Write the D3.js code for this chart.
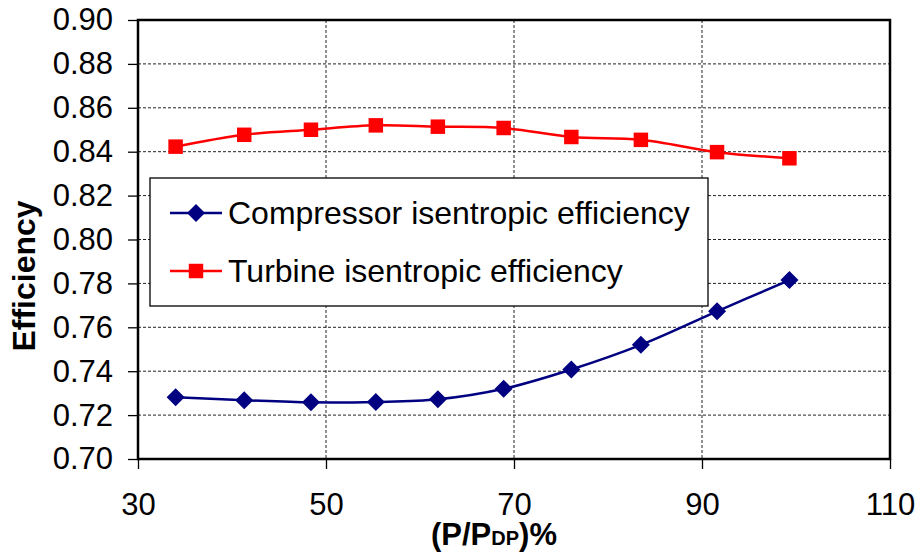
<!DOCTYPE html>
<html>
<head>
<meta charset="utf-8">
<script src="https://cdn.jsdelivr.net/npm/d3@7"></script>
<style>
  html, body { margin: 0; padding: 0; background: #fff; }
  svg { display: block; font-family: Arial, "Liberation Sans", sans-serif; }
</style>
</head>
<body>
<svg id="chart" width="918" height="558"></svg>
<script>
// ---- Data ----
const loadPct = [34.0, 41.3, 48.4, 55.3, 61.9, 68.9, 76.1, 83.5, 91.6, 99.3];
const compressorEff = [0.7281, 0.7268, 0.7258, 0.7260, 0.7272, 0.7320, 0.7408, 0.7520, 0.7673, 0.7815];
const turbineEff = [0.8423, 0.8477, 0.8500, 0.8520, 0.8514, 0.8508, 0.8467, 0.8454, 0.8398, 0.8370];
const xTicks = [30, 50, 70, 90, 110];
const yTicks = [0.70, 0.72, 0.74, 0.76, 0.78, 0.80, 0.82, 0.84, 0.86, 0.88, 0.90];
const seriesNames = ["Compressor isentropic efficiency", "Turbine isentropic efficiency"];

(function () {
// ---- Layout ----
const pL = 138, pR = 890, pT = 20, pB = 459;
const svg = d3.select("#chart");
const x = d3.scaleLinear().domain([30, 110]).range([pL, pR]);
const y = d3.scaleLinear().domain([0.70, 0.90]).range([pB, pT]);

// Gridlines
const grid = svg.append("g");
grid.selectAll("line.h").data(yTicks.filter(v => v > 0.701 && v < 0.899)).enter()
  .append("line")
  .attr("x1", pL).attr("x2", pR)
  .attr("y1", d => y(d)).attr("y2", d => y(d))
  .attr("stroke", "#222").attr("stroke-width", 1).attr("stroke-dasharray", "3,2");
grid.selectAll("line.v").data(xTicks.filter(v => v > 30 && v < 110)).enter()
  .append("line")
  .attr("y1", pT).attr("y2", pB)
  .attr("x1", d => x(d)).attr("x2", d => x(d))
  .attr("stroke", "#222").attr("stroke-width", 1).attr("stroke-dasharray", "3,2");

// Axes
const yAxis = d3.axisLeft(y).tickValues(yTicks).tickFormat(d3.format(".2f")).tickSize(10).tickPadding(15);
const gy = svg.append("g").attr("transform", `translate(${pL},0)`).call(yAxis);
const xAxis = d3.axisBottom(x).tickValues(xTicks).tickFormat(d3.format("d")).tickSize(10).tickPadding(24);
const gx = svg.append("g").attr("transform", `translate(0,${pB})`).call(xAxis);
[gx, gy].forEach(g => {
  g.select(".domain").remove();
  g.selectAll(".tick line").attr("stroke", "#000").attr("stroke-width", 1.3);
  g.selectAll(".tick text").attr("fill", "#000").style("font-size", "31px")
    .style("font-family", "Arial, 'Liberation Sans', sans-serif");
});

// Frame
svg.append("rect").attr("x", pL).attr("y", pT)
  .attr("width", pR - pL).attr("height", pB - pT)
  .attr("fill", "none").attr("stroke", "#000").attr("stroke-width", 2.5);

// Lines
const compData = loadPct.map((p, i) => [p, compressorEff[i]]);
const turbData = loadPct.map((p, i) => [p, turbineEff[i]]);
const line = d3.line().x(d => x(d[0])).y(d => y(d[1])).curve(d3.curveCatmullRom.alpha(0.5));

svg.append("path").datum(turbData).attr("d", line)
  .attr("fill", "none").attr("stroke", "#ff0000").attr("stroke-width", 2.5);
svg.append("path").datum(compData).attr("d", line)
  .attr("fill", "none").attr("stroke", "#000080").attr("stroke-width", 2.5);

const squareDiamond = {
  draw(ctx, size) {
    const r = Math.sqrt(size / 2);
    ctx.moveTo(0, -r); ctx.lineTo(r, 0); ctx.lineTo(0, r); ctx.lineTo(-r, 0); ctx.closePath();
  }
};
const sq = d3.symbol().type(d3.symbolSquare).size(210);
const dia = d3.symbol().type(squareDiamond).size(162);
svg.append("g").selectAll("path").data(turbData).enter().append("path")
  .attr("d", sq).attr("transform", d => `translate(${x(d[0])},${y(d[1])})`)
  .attr("fill", "#ff0000");
svg.append("g").selectAll("path").data(compData).enter().append("path")
  .attr("d", dia).attr("transform", d => `translate(${x(d[0])},${y(d[1])})`)
  .attr("fill", "#000080");

// Legend
const lg = svg.append("g");
lg.append("rect").attr("x", 150).attr("y", 178).attr("width", 558).attr("height", 128)
  .attr("fill", "#fff").attr("stroke", "#000").attr("stroke-width", 1.3);
const legendItems = [
  { name: seriesNames[0], color: "#000080", sym: dia, yy: 213 },
  { name: seriesNames[1], color: "#ff0000", sym: sq, yy: 271 }
];
legendItems.forEach(it => {
  lg.append("line").attr("x1", 170).attr("x2", 222).attr("y1", it.yy).attr("y2", it.yy)
    .attr("stroke", it.color).attr("stroke-width", 2.5);
  lg.append("path").attr("d", it.sym).attr("transform", `translate(196,${it.yy})`).attr("fill", it.color);
  lg.append("text").attr("x", 228).attr("y", it.yy).attr("dy", "0.35em")
    .style("font-size", "32px").attr("fill", "#000").text(it.name);
});

// Axis titles
svg.append("text").attr("transform", "translate(35,276) rotate(-90)")
  .attr("text-anchor", "middle").style("font-size", "32px").style("font-weight", "bold")
  .text("Efficiency");
const xt = svg.append("text").attr("x", 494).attr("y", 545)
  .attr("text-anchor", "middle").style("font-size", "31px").style("font-weight", "bold");
xt.append("tspan").text("(P/P");
xt.append("tspan").style("font-size", "20px").text("DP");
xt.append("tspan").text(")%");
})();
</script>
</body>
</html>
